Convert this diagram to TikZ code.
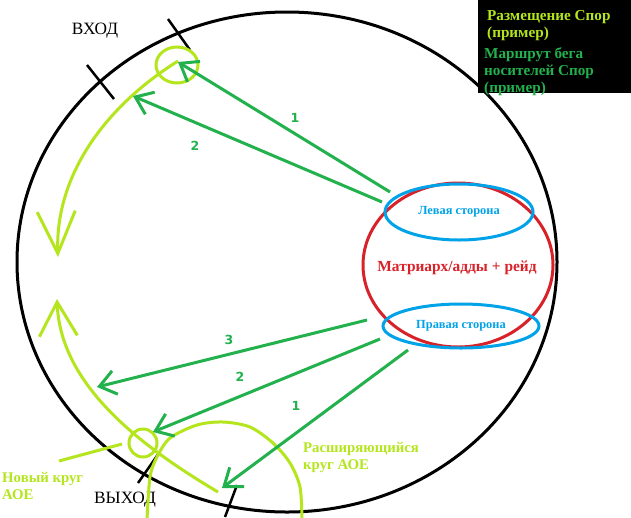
\documentclass[tikz,border=0pt]{standalone}
\usepackage{fontspec}
\setmainfont{Liberation Serif}
\newfontfamily\numfont{DejaVu Sans}
\usetikzlibrary{arrows.meta,shapes.geometric}
\definecolor{lime}{RGB}{181,230,29}
\definecolor{grn}{RGB}{34,177,76}
\definecolor{rd}{RGB}{216,34,42}
\definecolor{bl}{RGB}{0,162,232}
\begin{document}
\begin{tikzpicture}[x=1pt,y=-1pt,
  outline/.style={ellipse,draw=black,line width=3pt,inner sep=0pt},
  tickline/.style={draw=black,line width=2.5pt},
  sporeline/.style={draw=lime,line width=3pt},
  sporearrow/.style={sporeline,-{Straight Barb[length=#1,width=38pt,line width=3pt]}},
  sporecirc/.style={ellipse,draw=lime,line width=3pt,inner sep=0pt},
  run/.style={draw=grn,line width=3pt,-{Straight Barb[length=16pt,width=24pt,line width=3pt]}},
  numlbl/.style={text=grn,font=\numfont\bfseries\fontsize{12.5}{14}\selectfont,inner sep=0pt},
  gate/.style={text=black,font=\fontsize{17.3}{19}\selectfont,inner sep=0pt},
  limetext/.style={text=lime,font=\bfseries\fontsize{14.8}{17}\selectfont,align=left,anchor=north west,inner sep=0pt},
  legtext/.style={font=\bfseries\fontsize{15.2}{17}\selectfont,align=left,anchor=north west,inner sep=0pt},
  side/.style={ellipse,draw=bl,line width=3pt,inner sep=0pt,text=bl,font=\bfseries\fontsize{12.4}{14}\selectfont},
]
\useasboundingbox (0,0) rectangle (631,517);
\clip (0,0) rectangle (631,517);
\fill[white] (0,0) rectangle (631,517);

% arena
\node[outline,minimum width=540pt,minimum height=500pt] (arena) at (287,262) {};

% legend box
\node[fill=black,minimum width=153pt,minimum height=93pt,anchor=north west,inner sep=0pt] (legendbox) at (478,0) {};
\node[legtext,text=lime] (leg1) at (487,10.5) {Размещение Спор\\(пример)};
\node[legtext,text=grn] (leg2) at (484,47.5) {Маршрут бега\\носителей Спор\\(пример)};

% gate ticks
\draw[tickline] (87,65) -- (114,99);
\draw[tickline] (168,19) -- (190,50);
\draw[tickline] (138,483) -- (159,453);
\draw[tickline] (225,517) -- (237,485);
\node[gate] (entry) at (95,31) {ВХОД};
\node[gate] (exit) at (125,500) {ВЫХОД};

% spore circles and paths
\node[sporecirc,minimum width=42pt,minimum height=36pt] (topcirc) at (177,65) {};
\node[sporecirc,minimum width=28pt,minimum height=28pt] (newcirc) at (143,443) {};
\draw[sporearrow=42pt] (178,61) .. controls (100,110) and (55,180) .. (58,257);
\draw[sporearrow=34pt] (218,492) .. controls (130,440) and (60,380) .. (57,299);
\draw[sporeline] plot[smooth] coordinates {(147,520) (150,477) (157,457) (170,438) (197,425) (223,422) (250,427) (273,443) (290,463) (300,487) (302,520)};
\coordinate (newptr) at (59,461);
\coordinate (newend) at (122,444);
\draw[sporeline] (newptr) -- (newend);
\node[limetext] (newlbl) at (2,472.5) {Новый круг\\АОЕ};
\node[limetext] (growlbl) at (303,442.5) {Расширяющийся\\круг АОЕ};

% raid
\node[ellipse,draw=rd,line width=3pt,inner sep=0pt,minimum width=190pt,minimum height=164pt] (raid) at (458,265) {};
\node[text=rd,font=\bfseries\fontsize{15.4}{17}\selectfont,inner sep=0pt] (raidlbl) at (457,268) {Матриарх/адды + рейд};
\node[side,minimum width=148pt,minimum height=56pt] (leftside) at (459,212) {Левая сторона};
\node[side,minimum width=156pt,minimum height=44pt] (rightside) at (461,326) {Правая сторона};

% runner routes
\coordinate (t1s) at (390,192); \coordinate (t1e) at (178,62);
\coordinate (t2s) at (382,202); \coordinate (t2e) at (133,96);
\coordinate (b3s) at (367,320); \coordinate (b3e) at (97,387);
\coordinate (b2s) at (380,339); \coordinate (b2e) at (153,432);
\coordinate (b1s) at (408,350); \coordinate (b1e) at (222,488);
\draw[run] (t1s) -- (t1e);
\draw[run] (t2s) -- (t2e);
\draw[run] (b3s) -- (b3e);
\draw[run] (b2s) -- (b2e);
\draw[run] (b1s) -- (b1e);
\node[numlbl] (n1t) at (295,118) {1};
\node[numlbl] (n2t) at (195,146) {2};
\node[numlbl] (n3b) at (229,340) {3};
\node[numlbl] (n2b) at (240,377) {2};
\node[numlbl] (n1b) at (296,406) {1};
\end{tikzpicture}
\end{document}
